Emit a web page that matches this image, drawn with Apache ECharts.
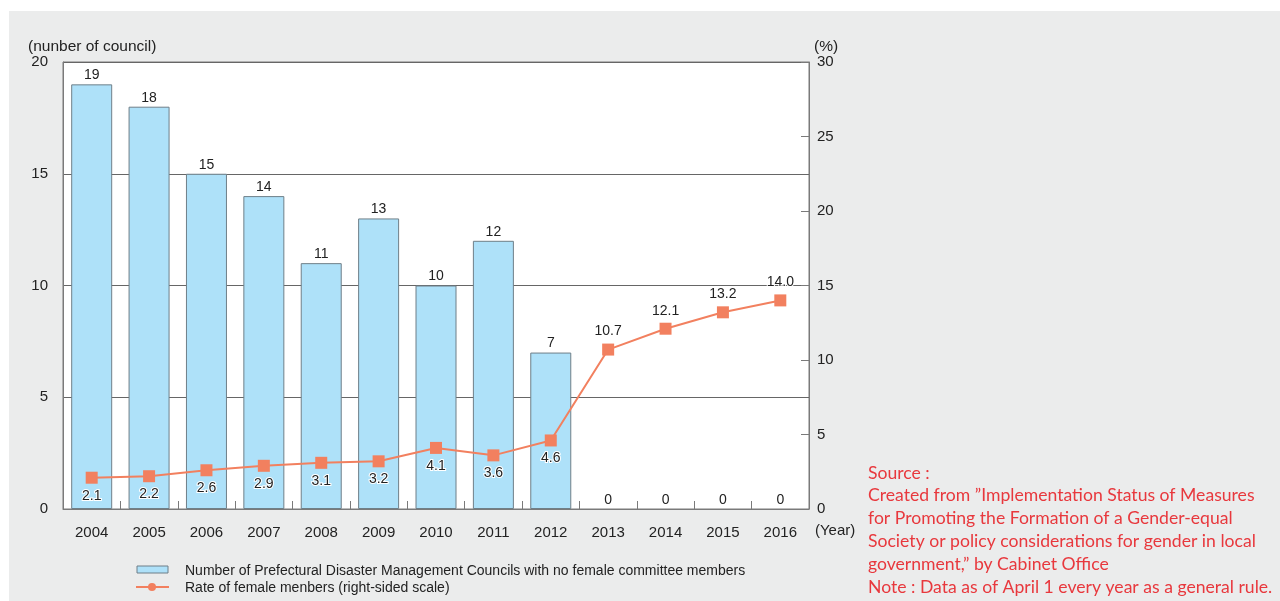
<!DOCTYPE html>
<html><head><meta charset="utf-8">
<script src="https://cdn.jsdelivr.net/npm/echarts@6/dist/echarts.min.js"></script>
<style>
html,body{margin:0;padding:0;background:#fff;}
#bg{position:absolute;left:9px;top:11px;right:0;bottom:0;background:#ebecec;}
#c{position:absolute;left:0;top:0;width:1280px;height:601px;}
</style></head>
<body><div id="bg"></div><div id="c"></div>
<script>
const years = ['2004','2005','2006','2007','2008','2009','2010','2011','2012','2013','2014','2015','2016'];
const councils = [19,18,15,14,11,13,10,12,7,0,0,0,0];
const rates = [2.1,2.2,2.6,2.9,3.1,3.2,4.1,3.6,4.6,10.7,12.1,13.2,14.0];
const ratesLabelBelow = [true,true,true,true,true,true,true,true,true,false,false,false,false];
const leftTicks = {min:0,max:20,interval:5};
const rightTicks = {min:0,max:30,interval:5};
const barName = 'Number of Prefectural Disaster Management Councils with no female committee members';
const lineName = 'Rate of female menbers (right-sided scale)';
const sourceLines = [
 'Source :',
 'Created from \u201DImplementation Status of Measures',
 'for Promoting the Formation of a Gender-equal',
 'Society or policy considerations for gender in local',
 'government,\u201D by Cabinet Office',
 'Note : Data as of April 1 every year as a general rule.'
];

const FONT = 'Liberation Sans, Arial, sans-serif';
const chart = echarts.init(document.getElementById('c'), null, {renderer:'canvas'});
const axisGray = '#7a7a7a';
const lineColor = '#f2805f';

const graphics = [];
graphics.push({type:'text', left:28, top:39, style:{text:'(nunber of council)', font:'15.5px '+FONT, fill:'#222'}});
graphics.push({type:'text', left:814, top:39, style:{text:'(%)', font:'15.5px '+FONT, fill:'#222'}});
graphics.push({type:'text', left:815, top:523, style:{text:'(Year)', font:'15px '+FONT, fill:'#222'}});
// legend
graphics.push({type:'rect', shape:{x:137, y:566, width:31, height:7}, style:{fill:'#aee1f9', stroke:'#6f7f88', lineWidth:1}});
graphics.push({type:'text', left:185, top:564, style:{text:barName, font:'14px '+FONT, fill:'#222'}});
graphics.push({type:'line', shape:{x1:136, y1:587, x2:169, y2:587}, style:{stroke:lineColor, lineWidth:2}});
graphics.push({type:'circle', shape:{cx:152, cy:587, r:4}, style:{fill:lineColor}});
graphics.push({type:'text', left:185, top:581, style:{text:lineName, font:'14px '+FONT, fill:'#222'}});
sourceLines.forEach((t,i)=>{
  graphics.push({type:'text', left:868, top:464 + i*22.8, style:{text:t, font:'17.6px Lato, "Open Sans", sans-serif', fill:'#e8383d'}});
});

chart.setOption({
  animation:false,
  backgroundColor:'transparent',
  textStyle:{fontFamily:FONT},
  grid:{left:63, right:471, top:62, bottom:92, show:true, backgroundColor:'#fff', borderColor:axisGray, borderWidth:1},
  xAxis:{
    type:'category', data:years,
    axisLine:{show:true, lineStyle:{color:axisGray}},
    axisTick:{show:true, inside:true, length:8, lineStyle:{color:axisGray}},
    axisLabel:{color:'#222', fontSize:15, margin:16}
  },
  yAxis:[
    {type:'value', min:leftTicks.min, max:leftTicks.max, interval:leftTicks.interval,
     axisLine:{show:true, lineStyle:{color:axisGray}}, axisTick:{show:false},
     axisLabel:{color:'#222', fontSize:15, margin:15},
     splitLine:{show:true, lineStyle:{color:'#666', width:1}}},
    {type:'value', min:rightTicks.min, max:rightTicks.max, interval:rightTicks.interval, position:'right',
     axisLine:{show:true, lineStyle:{color:axisGray}},
     axisTick:{show:true, inside:true, length:8, lineStyle:{color:axisGray}},
     axisLabel:{color:'#222', fontSize:15, margin:8},
     splitLine:{show:false}}
  ],
  series:[
    {type:'bar', name:barName, yAxisIndex:0, barWidth:41,
     data:councils.map(v=>({value:v, itemStyle:{borderWidth: v===0 ? 0 : 1}})),
     itemStyle:{color:'#aee1f9', borderColor:'#6f7f88', borderWidth:1},
     label:{show:true, position:'top', distance:2, color:'#222', fontSize:14}},
    {type:'line', name:lineName, yAxisIndex:1, z:5,
     data:rates.map((v,i)=>({value:v, label:{position: ratesLabelBelow[i] ? 'bottom' : 'top'}})),
     symbol:'rect', symbolSize:12, showAllSymbol:true,
     lineStyle:{color:lineColor, width:2}, itemStyle:{color:lineColor},
     label:{show:true, distance:5, color:'#222', fontSize:14, textBorderColor:'#fff', textBorderWidth:2,
       formatter:p=>p.value.toFixed(1)}}
  ],
  graphic:graphics
});
</script></body></html>
